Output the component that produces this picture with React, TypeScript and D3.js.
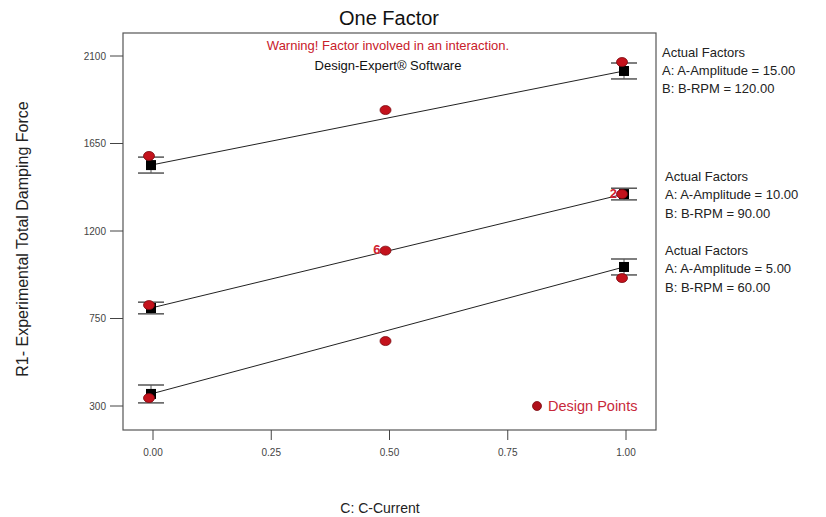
import React from "react";
import * as d3 from "d3";

// ---- data ----
const xTicks = [0, 0.25, 0.5, 0.75, 1.0];
const yTicks = [300, 750, 1200, 1650, 2100];
const predX = [0, 1];
const designX = [0, 0.5, 1];

const factorA = ["15.00", "10.00", "5.00"];
const factorB = ["120.00", "90.00", "60.00"];

const pred15 = [1539, 2023];
const err15 = [41, 41];
const design15 = [1586, 1822, 2069];

const pred10 = [804, 1390];
const err10 = [30, 30];
const design10 = [819, 1099, 1390];
const count10 = ["", "6", "2"];

const pred5 = [362, 1015];
const err5 = [46, 41];
const design5 = [341, 634, 958];

const series = [
  { pred: pred15, err: err15, design: design15, counts: ["", "", ""] },
  { pred: pred10, err: err10, design: design10, counts: count10 },
  { pred: pred5, err: err5, design: design5, counts: ["", "", ""] },
];

const W = 826;
const H = 517;
const frame = { left: 123, right: 656, top: 33, bottom: 430 };

export default function App() {
  const x = d3.scaleLinear().domain([0, 1]).range([151, 624]);
  const y = d3.scaleLinear().domain([300, 2100]).range([406, 56]);
  const line = d3
    .line<number>()
    .x((_, i) => x(predX[i]))
    .y((d) => y(d));

  const font = "Arial, 'Liberation Sans', sans-serif";
  const labelGroups = [
    { x: 662, ys: [52, 70, 88] },
    { x: 665, ys: [176, 194, 213] },
    { x: 665, ys: [250, 268, 287] },
  ];

  return (
    <svg
      width={W}
      height={H}
      style={{ position: "absolute", left: 0, top: 0, background: "#fff" }}
      fontFamily={font}
    >
      <rect x={0} y={0} width={W} height={H} fill="#fff" />
      {/* title */}
      <text x={389} y={25} textAnchor="middle" fontSize={20} fill="#111">
        One Factor
      </text>

      {/* frame */}
      <rect
        x={frame.left}
        y={frame.top}
        width={frame.right - frame.left}
        height={frame.bottom - frame.top}
        fill="none"
        stroke="#555"
        strokeWidth={1.2}
      />

      {/* y ticks */}
      {yTicks.map((t) => (
        <g key={"yt" + t}>
          <line x1={110} x2={frame.left} y1={y(t)} y2={y(t)} stroke="#444" strokeWidth={1} />
          <text x={106} y={y(t)} dy="0.35em" textAnchor="end" fontSize={10} fill="#444">
            {t}
          </text>
        </g>
      ))}

      {/* x ticks */}
      {xTicks.map((t) => (
        <g key={"xt" + t}>
          <line x1={x(t) + 2} x2={x(t) + 2} y1={frame.bottom} y2={frame.bottom + 10} stroke="#444" strokeWidth={1} />
          <text x={x(t) + 2} y={456} textAnchor="middle" fontSize={10} fill="#444">
            {t.toFixed(2)}
          </text>
        </g>
      ))}

      {/* axis titles */}
      <text x={380} y={513} textAnchor="middle" fontSize={14} fill="#222">
        C: C-Current
      </text>
      <text
        transform="translate(22,239) rotate(-90)"
        textAnchor="middle"
        dy="0.35em"
        fontSize={16}
        fill="#222"
      >
        R1- Experimental Total Damping Force
      </text>

      {/* warning text */}
      <text x={388} y={50} textAnchor="middle" fontSize={13} fill="#c8202a">
        Warning! Factor involved in an interaction.
      </text>
      <text x={388} y={70} textAnchor="middle" fontSize={13} fill="#111">
        Design-Expert® Software
      </text>

      {/* series */}
      {series.map((s, si) => (
        <g key={"s" + si}>
          {s.pred.map((p, i) => {
            const cx = x(predX[i]);
            return (
              <g key={"e" + i}>
                <line x1={cx} x2={cx} y1={y(p + s.err[i])} y2={y(p - s.err[i])} stroke="#555" strokeWidth={1} />
                <line x1={cx - 13} x2={cx + 13} y1={y(p + s.err[i])} y2={y(p + s.err[i])} stroke="#555" strokeWidth={1.5} />
                <line x1={cx - 13} x2={cx + 13} y1={y(p - s.err[i])} y2={y(p - s.err[i])} stroke="#555" strokeWidth={1.5} />
              </g>
            );
          })}
          <path d={line(s.pred) || ""} fill="none" stroke="#222" strokeWidth={1} />
          {s.pred.map((p, i) => (
            <rect key={"q" + i} x={x(predX[i]) - 5} y={y(p) - 5} width={10} height={10} fill="#000" />
          ))}
          {s.design.map((d, i) => (
            <g key={"d" + i}>
              <ellipse cx={x(designX[i]) - 2} cy={y(d)} rx={5.5} ry={4.5} fill="#c4121c" stroke="#7a0a10" strokeWidth={0.8} />
              {s.counts[i] && (
                <text x={x(designX[i]) - 7} y={y(d) - 1} dy="0.35em" textAnchor="end" fontSize={13} fontWeight="bold" fill="#d0202e">
                  {s.counts[i]}
                </text>
              )}
            </g>
          ))}
        </g>
      ))}

      {/* legend */}
      <ellipse cx={537} cy={406} rx={4.5} ry={4.5} fill="#b0101a" stroke="#7a0a10" strokeWidth={0.8} />
      <text x={548} y={406} dy="0.35em" fontSize={14.5} fill="#c8283a">
        Design Points
      </text>

      {/* actual factors */}
      {labelGroups.map((g, gi) => (
        <g key={"lg" + gi} fontSize={13} fill="#222">
          <text x={g.x} y={g.ys[0]} dy="0.35em">Actual Factors</text>
          <text x={g.x} y={g.ys[1]} dy="0.35em">{`A: A-Amplitude = ${factorA[gi]}`}</text>
          <text x={g.x} y={g.ys[2]} dy="0.35em">{`B: B-RPM = ${factorB[gi]}`}</text>
        </g>
      ))}
    </svg>
  );
}
